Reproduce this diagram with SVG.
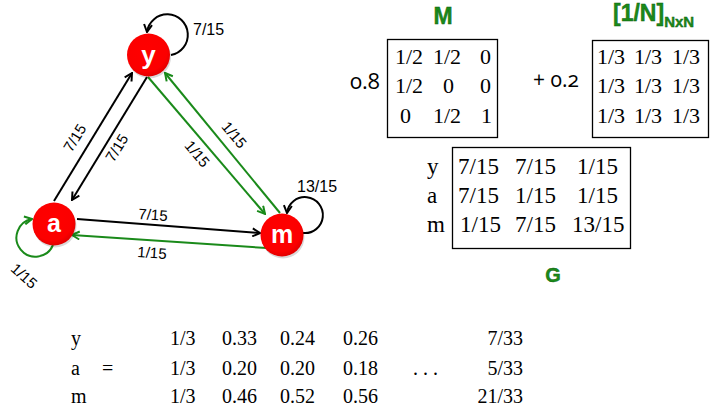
<svg xmlns="http://www.w3.org/2000/svg" width="715" height="413" viewBox="0 0 715 413">
<style>
.lbl{font-family:"Liberation Sans",Arial,sans-serif;font-size:15px;fill:#000}
.nd{font-family:"Liberation Sans",Arial,sans-serif;font-weight:bold;fill:#fff;text-anchor:middle}
.tm{font-family:"Liberation Serif","Times New Roman",serif;fill:#000}
.ttl{font-family:"Liberation Sans",Arial,sans-serif;font-weight:bold;fill:#1a8a1a;stroke:#0c5a0c;stroke-width:0.4}
.os{font-family:"Open Sans","DejaVu Sans",sans-serif;font-variant-numeric:oldstyle-nums;font-feature-settings:"onum" 1;fill:#000}
.bk{fill:none;stroke:#000;stroke-width:2;marker-end:url(#ab)}
.gr{fill:none;stroke:#1a8a1a;stroke-width:2;marker-end:url(#ag)}
.box{fill:none;stroke:#000;stroke-width:1.3}
</style>
<defs>
<marker id="ab" viewBox="0 0 10 10" refX="9" refY="5" markerWidth="10" markerHeight="10" markerUnits="userSpaceOnUse" orient="auto">
<path d="M1.5,1 L9,5 L1.5,9" fill="none" stroke="#000" stroke-width="2" stroke-linejoin="miter"/>
</marker>
<marker id="ag" viewBox="0 0 10 10" refX="9" refY="5" markerWidth="10" markerHeight="10" markerUnits="userSpaceOnUse" orient="auto">
<path d="M1.5,1 L9,5 L1.5,9" fill="none" stroke="#1a8a1a" stroke-width="2" stroke-linejoin="miter"/>
</marker>
<radialGradient id="rg" cx="0.45" cy="0.4" r="0.6">
<stop offset="0" stop-color="#ff0000"/>
<stop offset="0.8" stop-color="#fb0000"/>
<stop offset="1" stop-color="#e20000"/>
</radialGradient>
</defs>

<g id="connectors">
<path class="bk" d="M54,201 L132,73"/>
<path class="bk" d="M147,77 L72,200"/>
<path class="gr" d="M148,77 L265,214"/>
<path class="gr" d="M280,213 L165,73"/>
<path class="bk" d="M77,219 L260,233"/>
<path class="gr" d="M267,248 L72,235"/>
<path class="bk" d="M171,55 A20.5,20.5 0 1 0 147,32"/>
<path class="bk" d="M303,233 A18,18 0 1 0 287,213"/>
<path class="gr" d="M53,245 A19,19 0 1 1 32,219"/>
<text class="lbl" transform="translate(75,138) rotate(-58)" x="0" y="5" text-anchor="middle">7/15</text>
<text class="lbl" transform="translate(117,148) rotate(-58)" x="0" y="5" text-anchor="middle">7/15</text>
<text class="lbl" transform="translate(197,154) rotate(50)" x="0" y="5" text-anchor="middle">1/15</text>
<text class="lbl" transform="translate(234,135) rotate(50)" x="0" y="5" text-anchor="middle">1/15</text>
<text class="lbl" transform="translate(153,215) rotate(4)" x="0" y="5" text-anchor="middle">7/15</text>
<text class="lbl" transform="translate(152,253) rotate(4)" x="0" y="5" text-anchor="middle">1/15</text>
<text class="lbl" transform="translate(24,276) rotate(42)" x="0" y="5" text-anchor="middle">1/15</text>
<text class="lbl" x="193" y="35" style="font-size:16px">7/15</text>
<text class="lbl" x="297" y="192" style="font-size:16px">13/15</text>
</g>

<g id="node-y">
<circle cx="149.5" cy="57" r="21.5" fill="#000" opacity="0.15"/>
<circle cx="148.5" cy="55" r="21.5" fill="url(#rg)"/>
<text class="nd" x="148.5" y="64" font-size="26">y</text>
</g>
<g id="node-a">
<circle cx="55" cy="226" r="21.5" fill="#000" opacity="0.15"/>
<circle cx="54" cy="224" r="21.5" fill="url(#rg)"/>
<text class="nd" x="54" y="232" font-size="25">a</text>
</g>
<g id="node-m">
<circle cx="283" cy="237" r="21.5" fill="#000" opacity="0.15"/>
<circle cx="282" cy="235" r="21.5" fill="url(#rg)"/>
<text class="nd" x="282" y="243" font-size="25">m</text>
</g>

<g id="matrix-M">
<text class="ttl" x="443" y="24" font-size="23" text-anchor="middle">M</text>
<text class="os" x="350" y="89" font-size="22">0.8</text>
<rect class="box" x="387.5" y="39.5" width="110" height="98"/>
<g class="tm" font-size="22">
<text x="395" y="64">1/2</text><text x="433" y="64">1/2</text><text x="480" y="64">0</text>
<text x="395" y="93">1/2</text><text x="443" y="93">0</text><text x="480" y="93">0</text>
<text x="400" y="123">0</text><text x="433" y="123">1/2</text><text x="481" y="123">1</text>
</g>
</g>

<g id="matrix-N">
<text class="ttl" x="613" y="21" font-size="23">[1/N]<tspan font-size="15" dy="6">NxN</tspan></text>
<text class="os" x="533" y="87" font-size="21">+ 0.2</text>
<rect class="box" x="592.5" y="40.5" width="116" height="97"/>
<g class="tm" font-size="22">
<text x="597" y="64">1/3</text><text x="634" y="64">1/3</text><text x="672" y="64">1/3</text>
<text x="597" y="93">1/3</text><text x="634" y="93">1/3</text><text x="672" y="93">1/3</text>
<text x="597" y="123">1/3</text><text x="634" y="123">1/3</text><text x="672" y="123">1/3</text>
</g>
</g>

<g id="matrix-G">
<rect class="box" x="452.5" y="147.5" width="178" height="101"/>
<g class="tm" font-size="23">
<text x="427" y="174">y</text><text x="458" y="174">7/15</text><text x="515" y="174">7/15</text><text x="577" y="174">1/15</text>
<text x="427" y="203">a</text><text x="458" y="203">7/15</text><text x="515" y="203">1/15</text><text x="577" y="203">1/15</text>
<text x="427" y="232">m</text><text x="460" y="232">1/15</text><text x="515" y="232">7/15</text><text x="572" y="232">13/15</text>
</g>
<text class="ttl" x="553" y="282" font-size="20" text-anchor="middle">G</text>
</g>

<g id="iteration" class="tm" font-size="20">
<text x="71" y="345">y</text><text x="71" y="375">a</text><text x="71" y="403">m</text>
<text x="102" y="375">=</text>
<text x="170" y="345">1/3</text><text x="222" y="345">0.33</text><text x="280" y="345">0.24</text><text x="343" y="345">0.26</text><text x="523" y="345" text-anchor="end">7/33</text>
<text x="170" y="375">1/3</text><text x="222" y="375">0.20</text><text x="280" y="375">0.20</text><text x="343" y="375">0.18</text><text x="413" y="375">. . .</text><text x="523" y="375" text-anchor="end">5/33</text>
<text x="170" y="403">1/3</text><text x="222" y="403">0.46</text><text x="280" y="403">0.52</text><text x="343" y="403">0.56</text><text x="523" y="403" text-anchor="end">21/33</text>
</g>
</svg>
